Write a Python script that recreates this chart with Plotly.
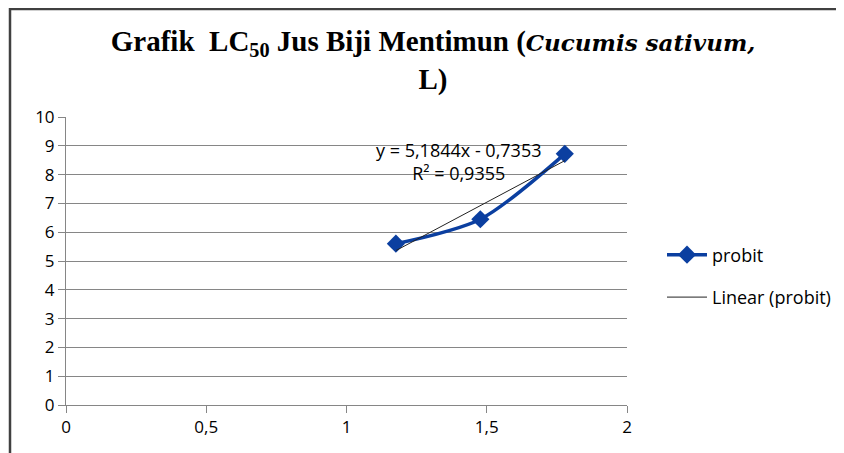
import plotly.graph_objects as go

# Data
log_conc = [1.1761, 1.4771, 1.7782]
probit = [5.60, 6.45, 8.72]
slope = 5.1844
intercept = -0.7353
r2_text = "0,9355"
x_ticks = [0, 0.5, 1, 1.5, 2]
x_tick_labels = ["0", "0,5", "1", "1,5", "2"]
y_ticks = list(range(0, 11))

trend_x = [min(log_conc), max(log_conc)]
trend_y = [slope * v + intercept for v in trend_x]

# page body has an 8px margin; figure coordinates = reference pixels - OFF
OFF = 8
W, H = 844 - OFF, 453 - OFF
L, R, T, B = 66 - OFF, 844 - 627, 117 - OFF, 453 - 405
pw, ph = W - L - R, H - T - B

def px_x(p):
    return (p - OFF - L) / pw

def px_y(p):
    return (H - B - (p - OFF)) / ph

label_font = "Open Sans, Liberation Sans, Arial"
serif_font = "Liberation Serif, Times New Roman, serif"

fig = go.Figure()
fig.add_trace(go.Scatter(
    x=log_conc, y=probit, mode="lines+markers", name="probit", legendgroup="a",
    line=dict(color="#0B3FA0", width=3.5, shape="spline", smoothing=0.8),
    marker=dict(symbol="diamond", size=14, color="#0B3FA0"),
))
fig.add_trace(go.Scatter(
    x=trend_x, y=trend_y, mode="lines", name="Linear (probit)", legendgroup="b",
    line=dict(color="#222222", width=1),
))

fig.add_annotation(
    x=px_x(458), y=px_y(161), xref="paper", yref="paper",
    xanchor="center", yanchor="middle",
    text=f"y = {str(slope).replace('.', ',')}x - {str(abs(intercept)).replace('.', ',')}<br>R² = {r2_text}",
    showarrow=False, align="center",
    font=dict(family=label_font, size=18, color="#000000"),
)

title_text = ("<b>Grafik&nbsp; LC<sub>50</sub> Jus Biji Mentimun "
              "(<i><span style=\"font-family:'DejaVu Serif';font-size:23px\">Cucumis sativum,</span></i><br>L)</b>")

fig.update_layout(
    width=W, height=H,
    margin=dict(l=L, r=R, t=T, b=B, autoexpand=False),
    paper_bgcolor="white", plot_bgcolor="white",
    title=dict(
        text=title_text,
        x=(433 - OFF) / W, xanchor="center", y=1 - (51 - OFF) / H, yanchor="middle",
        font=dict(family=serif_font, size=29, color="#000000"),
    ),
    xaxis=dict(
        range=[0, 2], tickvals=x_ticks, ticktext=x_tick_labels,
        showgrid=False, zeroline=False, showline=True, linecolor="#868686", linewidth=1,
        ticks="outside", ticklen=7, tickcolor="#868686",
        tickfont=dict(family=label_font, size=17, color="#000000"),
    ),
    yaxis=dict(
        range=[0, 10], tickvals=y_ticks,
        showgrid=True, gridcolor="#868686", gridwidth=1, zeroline=False,
        showline=True, linecolor="#868686", linewidth=1,
        ticks="outside", ticklen=7, tickcolor="#868686",
        tickfont=dict(family=label_font, size=17, color="#000000"),
    ),
    legend=dict(
        x=px_x(662), y=px_y(276), xanchor="left", yanchor="middle",
        font=dict(family=label_font, size=18, color="#000000"),
        tracegroupgap=16, itemwidth=40,
        bgcolor="rgba(0,0,0,0)",
    ),
    showlegend=True,
)

fig.add_shape(
    type="rect", xref="paper", yref="paper",
    x0=px_x(10), x1=px_x(870), y0=px_y(480), y1=px_y(9),
    line=dict(color="#404040", width=2.5), fillcolor="rgba(0,0,0,0)", layer="below",
)

fig.write_html("out.html")
